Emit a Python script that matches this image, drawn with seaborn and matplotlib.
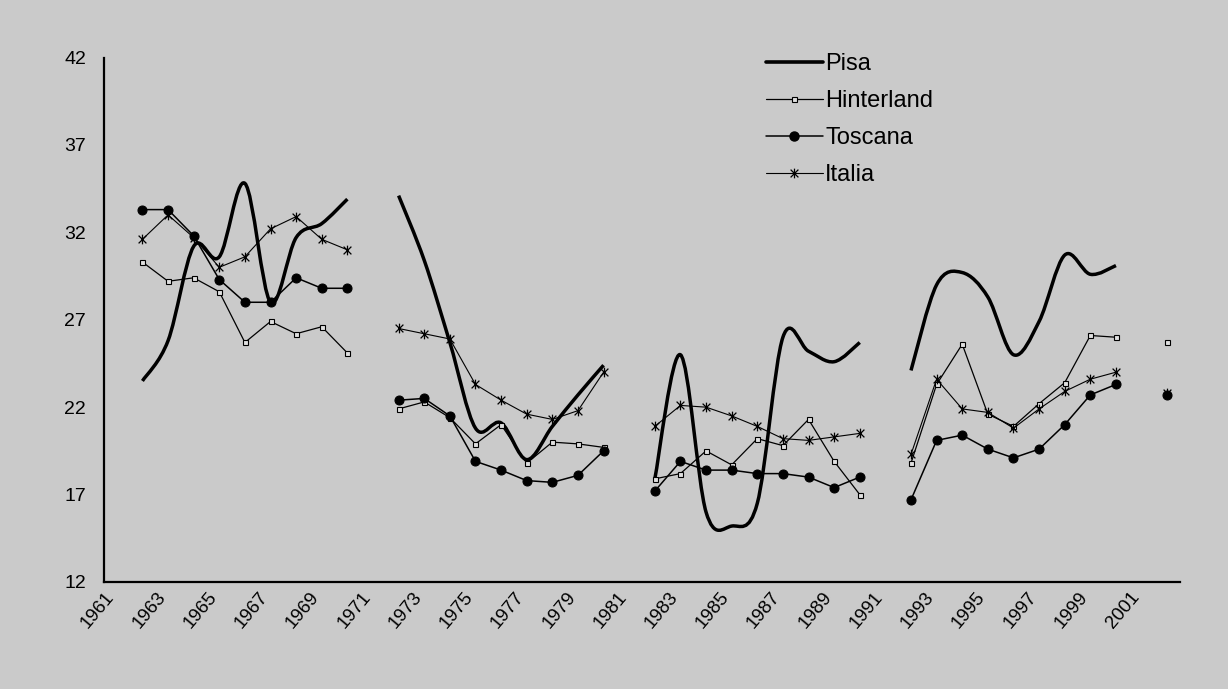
import numpy as np
import pandas as pd
import matplotlib
matplotlib.use("Agg")
import matplotlib.pyplot as plt
import matplotlib.transforms as mtransforms
import seaborn as sns
from matplotlib.path import Path
from matplotlib.patches import PathPatch
from matplotlib.lines import Line2D
from matplotlib.ticker import FixedLocator, MultipleLocator

nan = np.nan
anni = list(range(1961, 2003))

# valori (anni che finiscono in 1 mancanti)
pisa = [nan, 23.5, 25.8, 31.2, 30.6, 34.8, 28.0, 31.7, 32.5, 33.9,
        nan, 34.1, 30.4, 25.7, 20.8, 21.1, 19.0, 20.9, 22.7, 24.4,
        nan, 17.9, 25.0, 16.0, 15.2, 16.5, 26.0, 25.2, 24.6, 25.7,
        nan, 24.1, 29.0, 29.7, 28.3, 25.0, 26.9, 30.7, 29.6, 30.1,
        nan, nan]
hinterland = [nan, 30.3, 29.2, 29.4, 28.6, 25.7, 26.9, 26.2, 26.6, 25.1,
              nan, 21.9, 22.3, 21.4, 19.9, 21.0, 18.8, 20.0, 19.9, 19.7,
              nan, 17.9, 18.2, 19.5, 18.7, 20.2, 19.8, 21.3, 18.9, 17.0,
              nan, 18.8, 23.3, 25.6, 21.6, 20.9, 22.2, 23.4, 26.1, 26.0,
              nan, 25.7]
toscana = [nan, 33.3, 33.3, 31.8, 29.3, 28.0, 28.0, 29.4, 28.8, 28.8,
           nan, 22.4, 22.5, 21.5, 18.9, 18.4, 17.8, 17.7, 18.1, 19.5,
           nan, 17.2, 18.9, 18.4, 18.4, 18.2, 18.2, 18.0, 17.4, 18.0,
           nan, 16.7, 20.1, 20.4, 19.6, 19.1, 19.6, 21.0, 22.7, 23.3,
           nan, 22.7]
italia = [nan, 31.6, 33.0, 31.7, 30.0, 30.6, 32.2, 32.9, 31.6, 31.0,
          nan, 26.5, 26.2, 25.9, 23.3, 22.4, 21.6, 21.3, 21.8, 24.0,
          nan, 20.9, 22.1, 22.0, 21.5, 20.9, 20.2, 20.1, 20.3, 20.5,
          nan, 19.3, 23.6, 21.9, 21.7, 20.8, 21.9, 22.9, 23.6, 24.0,
          nan, 22.8]

df = pd.DataFrame({"anno": anni, "Pisa": pisa, "Hinterland": hinterland,
                   "Toscana": toscana, "Italia": italia})
df["blocco"] = (df["anno"] - 1961) // 10
lungo = df.melt(id_vars=["anno", "blocco"], var_name="serie",
                value_name="valore").dropna()

sns.set_style("white")
plt.rcParams["font.family"] = ["Liberation Sans", "DejaVu Sans"]
plt.rcParams["text.color"] = "black"
plt.rcParams["xtick.color"] = "black"
plt.rcParams["ytick.color"] = "black"
sfondo = "#cacaca"

fig = plt.figure(figsize=(12.28, 6.89), dpi=100, facecolor=sfondo)
ax = fig.add_axes([104 / 1228, 1 - 582 / 689, 1076 / 1228, 524.5 / 689])
ax.set_facecolor(sfondo)

# marker "stella" come in Excel: x con barra verticale
stella = Path([(-1, -1), (1, 1), (-1, 1), (1, -1), (0, -1.25), (0, 1.25)],
              [Path.MOVETO, Path.LINETO, Path.MOVETO, Path.LINETO,
               Path.MOVETO, Path.LINETO])

stili = {
    "Hinterland": dict(lw=0.9, marker="s", ms=3.6, mfc="#e0e0e0", mec="black", mew=0.8),
    "Toscana": dict(lw=1.1, marker="o", ms=6.5, mfc="black", mec="black"),
    "Italia": dict(lw=0.8, marker=stella, ms=7, mfc="none", mec="black", mew=0.9),
}
for serie, kw in stili.items():
    sns.lineplot(data=lungo[lungo["serie"] == serie], x="anno", y="valore",
                 units="blocco", estimator=None, color="black", ax=ax,
                 legend=False, **kw)


# linea smussata di Pisa (bezier tipo Excel)
def curva_smussata(xs, ys):
    verts = [(xs[0], ys[0])]
    codes = [Path.MOVETO]
    n = len(xs)
    for i in range(n - 1):
        a = i - 1 if i > 0 else i
        d = i + 2 if i + 2 < n else i + 1
        c1 = (xs[i] + (xs[i + 1] - xs[a]) / 6, ys[i] + (ys[i + 1] - ys[a]) / 6)
        c2 = (xs[i + 1] - (xs[d] - xs[i]) / 6, ys[i + 1] - (ys[d] - ys[i]) / 6)
        verts += [c1, c2, (xs[i + 1], ys[i + 1])]
        codes += [Path.CURVE4] * 3
    return Path(verts, codes)


pisa_df = lungo[lungo["serie"] == "Pisa"]
for _, g in pisa_df.groupby("blocco"):
    p = curva_smussata(g["anno"].to_numpy(float), g["valore"].to_numpy(float))
    ax.add_patch(PathPatch(p, fill=False, edgecolor="black", lw=2.5,
                           capstyle="butt", joinstyle="round"))

ax.set_xlim(1960.5, 2002.5)
ax.set_ylim(12, 42)
ax.set_xlabel("")
ax.set_ylabel("")

ax.set_yticks(range(12, 43, 5))
ax.yaxis.set_minor_locator(MultipleLocator(1))
ax.set_xticks(range(1961, 2002, 2))
ax.set_xticklabels([str(a) for a in range(1961, 2002, 2)], rotation=50,
                   ha="right", va="top", rotation_mode="anchor")
ax.xaxis.set_minor_locator(FixedLocator(np.arange(1961.5, 2002, 1)))

ax.tick_params(axis="x", which="major", length=0, pad=5, labelsize=13.5,
               labelcolor="black")
ax.tick_params(axis="x", which="minor", length=5, width=1.2, direction="out",
               color="black")
ax.tick_params(axis="y", which="major", length=5, width=1.2, direction="out",
               pad=8, labelsize=14, color="black", labelcolor="black")
ax.tick_params(axis="y", which="minor", length=2.5, width=0.8, direction="in",
               color="black")
spostamento = mtransforms.ScaledTranslation(-12 / 100, 0, fig.dpi_scale_trans)
for lab in ax.get_xticklabels():
    lab.set_transform(lab.get_transform() + spostamento)

sns.despine(ax=ax)
for s in ["left", "bottom"]:
    ax.spines[s].set_linewidth(1.6)
    ax.spines[s].set_color("black")

maniglie = [
    Line2D([], [], color="black", lw=2.6),
    Line2D([], [], color="black", **stili["Hinterland"]),
    Line2D([], [], color="black", **stili["Toscana"]),
    Line2D([], [], color="black", **stili["Italia"]),
]
leg = ax.legend(maniglie, ["Pisa", "Hinterland", "Toscana", "Italia"],
                loc="upper left", bbox_to_anchor=(766 / 1228, 1 - 53 / 689),
                bbox_transform=fig.transFigure, frameon=False, fontsize=17,
                handlelength=2.4, handletextpad=0.1, labelspacing=0.64,
                borderpad=0, borderaxespad=0)
for t in leg.get_texts():
    t.set_color("black")

fig.savefig("out.png", dpi=100, facecolor=sfondo)
